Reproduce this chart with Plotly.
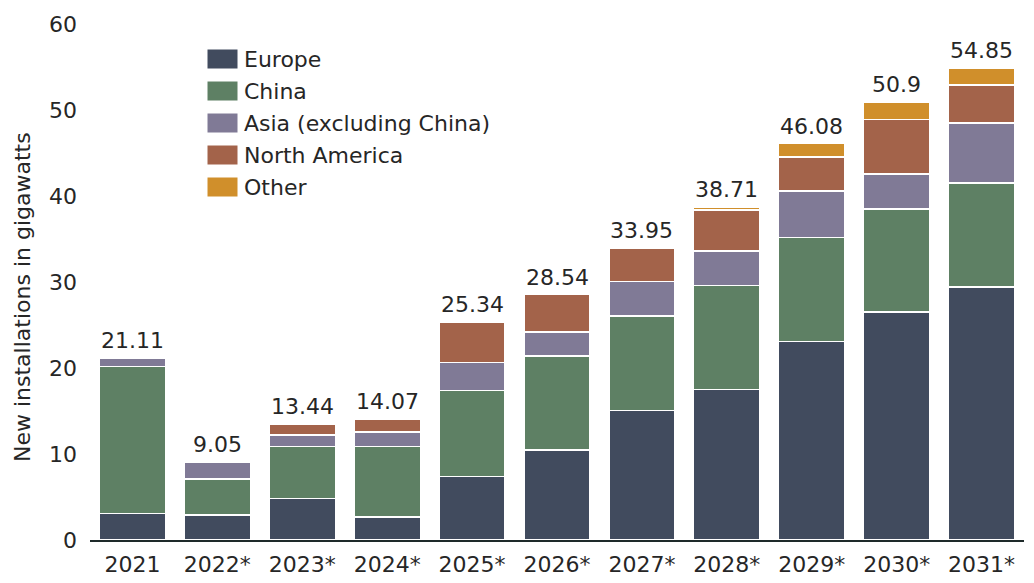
import plotly.graph_objs as go

# Categories and series (new installations, GW)
years = ["2021", "2022*", "2023*", "2024*", "2025*", "2026*", "2027*", "2028*", "2029*", "2030*", "2031*"]
europe = [3.1, 2.9, 4.85, 2.7, 7.4, 10.45, 15.05, 17.5, 23.1, 26.5, 29.4]
china = [17.05, 4.2, 6.0, 8.15, 10.0, 10.95, 11.0, 12.1, 12.1, 12.0, 12.1]
asia_ex_china = [0.96, 1.95, 1.35, 1.7, 3.25, 2.8, 4.0, 4.0, 5.4, 4.05, 7.0]
north_america = [0, 0, 1.24, 1.52, 4.69, 4.34, 3.9, 4.8, 3.95, 6.35, 4.4]
other = [0, 0, 0, 0, 0, 0, 0, 0.31, 1.53, 2.0, 1.95]
totals = [21.11, 9.05, 13.44, 14.07, 25.34, 28.54, 33.95, 38.71, 46.08, 50.9, 54.85]

series = [
    ("Europe", europe, "#414b5e"),
    ("China", china, "#5e8064"),
    ("Asia (excluding China)", asia_ex_china, "#807a96"),
    ("North America", north_america, "#a3634a"),
    ("Other", other, "#d08f2b"),
]

FONT = "DejaVu Sans, Verdana, sans-serif"
FS = 22
TEXT = "#262626"
W, H = 1034, 583
OFF = 8  # page body margin
# plot area wanted in page pixels: x 90..1024, y 24..540
ML, MT = 90 - OFF, 24 - OFF
MR, MB = W - (1024 - OFF), H - (540 - OFF)


def px_to_paper(x, y):
    """Convert a page pixel position to paper coordinates."""
    x, y = x - OFF, y - OFF
    return (x - ML) / (W - ML - MR), 1 - (y - MT) / (H - MT - MB)


fig = go.Figure()
for name, vals, color in series:
    fig.add_trace(go.Bar(
        x=years, y=vals, name=name,
        marker=dict(color=color, line=dict(color="white", width=1.5)),
        showlegend=False,
    ))

# total labels above the bars (x given as category index)
for i, tot in enumerate(totals):
    fig.add_annotation(x=i, y=tot, text=f"{tot:g}", showarrow=False,
                       yanchor="bottom", yshift=3,
                       font=dict(family=FONT, size=FS, color=TEXT))

# hand-made legend with wide swatches
for i, (name, vals, color) in enumerate(series):
    yc = 59 + i * 32
    x0, y0 = px_to_paper(207, yc - 10)
    x1, y1 = px_to_paper(238, yc + 10)
    fig.add_shape(type="rect", xref="paper", yref="paper", x0=x0, y0=y0, x1=x1, y1=y1,
                  fillcolor=color, line=dict(color="white", width=1))
    tx, ty = px_to_paper(242, yc)
    fig.add_annotation(xref="paper", yref="paper", x=tx, y=ty, text=name, showarrow=False,
                       xanchor="left", yanchor="middle",
                       font=dict(family=FONT, size=FS, color=TEXT))

# y axis title placed as a rotated annotation
tx, ty = px_to_paper(22, 297)
fig.add_annotation(xref="paper", yref="paper", x=tx, y=ty, text="New installations in gigawatts",
                   textangle=-90, showarrow=False, xanchor="center", yanchor="middle",
                   font=dict(family=FONT, size=FS, color=TEXT))

fig.update_layout(
    barmode="stack",
    bargap=0.22,
    width=W, height=H,
    margin=dict(l=ML, r=MR, t=MT, b=MB, autoexpand=False),
    plot_bgcolor="white",
    paper_bgcolor="white",
    font=dict(family=FONT, size=FS, color=TEXT),
    xaxis=dict(
        range=[-0.5, 10.5], automargin=False,
        showline=True, linecolor="#1e2a2a", linewidth=2,
        ticks="", ticklabelstandoff=4,
        tickfont=dict(size=FS, color=TEXT),
    ),
    yaxis=dict(
        range=[0, 60], dtick=10, automargin=False,
        showgrid=False, zeroline=False, showline=False,
        ticklabelstandoff=12,
        tickfont=dict(size=FS, color=TEXT),
    ),
)

fig.write_html("out.html")
